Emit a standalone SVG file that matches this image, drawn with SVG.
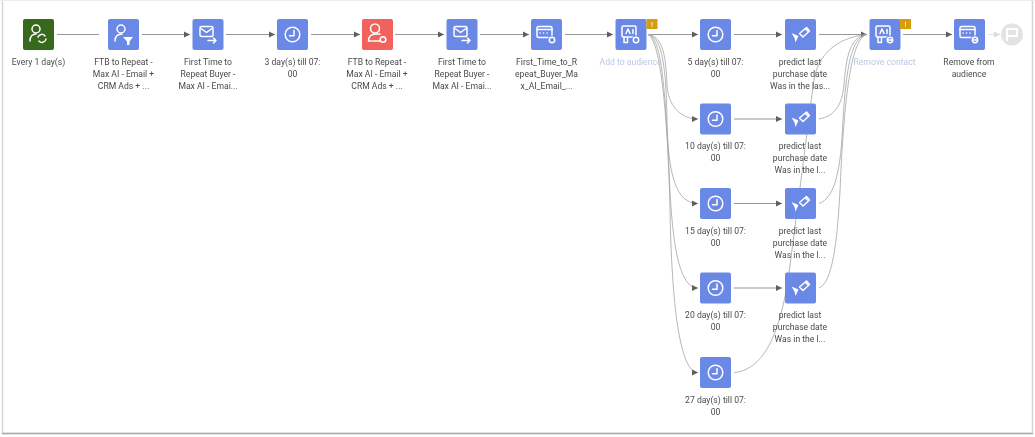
<svg xmlns="http://www.w3.org/2000/svg" width="1035" height="437" viewBox="0 0 1035 437">
<style>
text{font-family:Roboto,"Liberation Sans",sans-serif;font-size:8.6px;fill:#4a4a4a;text-anchor:middle}
.m{fill:#b9c8e2}
.b{fill:#6b88e6}
.i{fill:none;stroke:#fff;stroke-width:1.5;stroke-linecap:round;stroke-linejoin:round}
.e{fill:none;stroke:#8b8b8b;stroke-width:.9}
.c{fill:none;stroke:#a3a3a3;stroke-width:.8}
.w{fill:#fff}
</style>
<defs>
<filter id="s" x="-2%" y="-2%" width="104%" height="104%"><feGaussianBlur stdDeviation="0.5"/></filter>
<marker id="a" markerUnits="userSpaceOnUse" markerWidth="7" markerHeight="7" refX="6" refY="3.5" orient="auto"><path d="M0 .5L6 3.5L0 6.5Z" fill="#5f5f5f"/></marker>
<marker id="l" markerUnits="userSpaceOnUse" markerWidth="7" markerHeight="7" refX="6" refY="3.5" orient="auto"><path d="M0 .5L6 3.5L0 6.5Z" fill="#dcdcdc"/></marker>
<g id="clock"><circle cx="0" cy="0" r="7.3" class="i"/><path d="M1.5-4V1.2H-3" class="i"/></g>
<g id="pred"><path d="M-9 -1.5L-2 1.5L-5 8L-6 3.5Z" fill="#fff"/><path d="M-1 -1L6 -7L9 -3.5L2.500 2.500Z" class="i"/><path d="M5-5.500l2 2" class="i"/></g>
<g id="mail"><rect x="-8" y="-8" width="13" height="10" rx="1.5" class="i"/><path d="M-7-6L-1.500-2L4-6" class="i"/><path d="M0 6H8M5.500 3.500L8 6L5.500 8.500" class="i"/></g>
<g id="aud"><rect x="-9" y="-8" width="15" height="11" rx="1.5" class="i"/><path d="M-9-5H6" class="i"/><path d="M-6-1.500h.1M-2.500-1.500h.1M1-1.500h.1" class="i" stroke-width="2"/></g>
<g id="ad"><rect x="-8" y="-8.500" width="14" height="11" rx="1.5" class="i"/><path d="M-4-1L-2-5.500L0-1M3-5V-1" class="i" stroke-width="1"/><path d="M-6 2.500V8H-2.500V3" class="i"/></g>
</defs>
<rect width="1035" height="437" fill="#fff"/>
<g filter="url(#s)">
<g id="frame"><path d="M2.500 0V433.500H1032.500V0" fill="none" stroke="#d6d6d6" stroke-width="1.500"/><path d="M2 433.500H1033" fill="none" stroke="#ababab" stroke-width="1.500"/><path d="M0 .5H1035" stroke="#ececec"/></g>
<g id="connectors">
<path class="e" d="M57 34.500H99"/>
<path class="e" d="M142 34.500H190" marker-end="url(#a)"/>
<path class="e" d="M226 34.500H275" marker-end="url(#a)"/>
<path class="e" d="M311 34.500H360" marker-end="url(#a)"/>
<path class="e" d="M395 34.500H444" marker-end="url(#a)"/>
<path class="e" d="M480 34.500H529" marker-end="url(#a)"/>
<path class="e" d="M565 34.500H613" marker-end="url(#a)"/>
<path class="e" d="M650 34.500H698" marker-end="url(#a)"/>
<path class="e" d="M734 34.500H782" marker-end="url(#a)"/>
<path class="e" d="M819 34.500H867" marker-end="url(#a)"/>
<path class="e" d="M903 34.500H952" marker-end="url(#a)"/>
<path d="M988 34.500H1000" fill="none" stroke="#e2e2e2" marker-end="url(#l)"/>
<path class="c" d="M648 34.500C664 36 666 60 667 85C668 105 680 119 698 119" marker-end="url(#a)"/>
<path class="c" d="M648 34.500C663 37 666 70 667 120C668 175 676 203.500 698 203.500" marker-end="url(#a)"/>
<path class="c" d="M648 34.500C662 38 665 90 669 170C672 250 680 288 698 288" marker-end="url(#a)"/>
<path class="c" d="M648 34.500C661 40 668 120 670 210C672 320 682 372.500 698 372.500" marker-end="url(#a)"/>
<path class="e" d="M734 119H782" marker-end="url(#a)"/>
<path class="e" d="M734 203.500H782" marker-end="url(#a)"/>
<path class="e" d="M734 288H782" marker-end="url(#a)"/>
<path class="c" d="M819 119C835 116 842 105 844 85C846 55 851 37 866 34.500"/>
<path class="c" d="M819 203.500C835 198 841 170 843 120C846 70 851 38 866 34.500"/>
<path class="c" d="M819 288C833 282 838 240 841 170C845 90 852 40 866 34.500"/>
<path class="c" d="M734 372.500C765 370 782 330 790 265C800 190 809 115 814 80C818 55 836 38 866 34.500"/>
</g>
<g id="n1"><rect class="b" style="fill:#37671c" x="23" y="19" width="31" height="31" rx="2"/><circle cx="36" cy="29" r="4" class="i"/><path d="M30 41C30 36 33 34 36 34" class="i"/><path d="M38 37a4 4 0 0 1 7-1M46 39a4 4 0 0 1-7 2" class="i" stroke-width="1.200"/><text x="38.500" y="64.500">Every 1 day(s)</text></g>
<g id="n2"><rect class="b" x="108" y="19" width="31" height="31" rx="2"/><circle cx="121" cy="29" r="4" class="i"/><path d="M115 41C115 36 118 34 122 34" class="i"/><path d="M123 37H133L129.500 41.500V45H127V41.500Z" class="w"/><text x="123.500" y="64.500">FTB to Repeat -</text><text x="123.500" y="76.500">Max AI - Email +</text><text x="123.500" y="88.500">CRM Ads + ...</text></g>
<g id="n3"><rect class="b" x="192.500" y="19" width="31" height="31" rx="2"/><use href="#mail" x="208" y="34.500"/><text x="208" y="64.500">First Time to</text><text x="208" y="76.500">Repeat Buyer -</text><text x="208" y="88.500">Max AI - Emai...</text></g>
<g id="n4"><rect class="b" x="277" y="19" width="31" height="31" rx="2"/><use href="#clock" x="292.500" y="34.500"/><text x="292.500" y="64.500">3 day(s) till 07:</text><text x="292.500" y="76.500">00</text></g>
<g id="n5"><rect class="b" style="fill:#f2625c" x="362" y="19" width="31" height="31" rx="2"/><circle cx="375" cy="28.500" r="4.500" class="i"/><path d="M368.500 41C368.500 36 372 34 376 34H380M368.500 41H380" class="i"/><circle cx="383" cy="39.500" r="2.800" class="i"/><text x="377" y="64.500">FTB to Repeat -</text><text x="377" y="76.500">Max AI - Email +</text><text x="377" y="88.500">CRM Ads + ...</text></g>
<g id="n6"><rect class="b" x="446.500" y="19" width="31" height="31" rx="2"/><use href="#mail" x="462" y="34.500"/><text x="462" y="64.500">First Time to</text><text x="462" y="76.500">Repeat Buyer -</text><text x="462" y="88.500">Max AI - Emai...</text></g>
<g id="n7"><rect class="b" x="531" y="19" width="31" height="31" rx="2"/><use href="#aud" x="546" y="34.500"/><circle cx="552" cy="40" r="4.500" fill="#6b88e6"/><circle cx="552" cy="40" r="2.700" class="i"/><text x="546.500" y="64.500">First_Time_to_R</text><text x="546.500" y="76.500">epeat_Buyer_Ma</text><text x="546.500" y="88.500">x_AI_Email_...</text></g>
<g id="n8"><rect class="b" x="615.500" y="19" width="31" height="31" rx="2"/><use href="#ad" x="630" y="34.500"/><circle cx="636" cy="40" r="4.500" fill="#6b88e6"/><circle cx="636" cy="40" r="2.700" class="i"/><rect x="646.500" y="19" width="11" height="10" fill="#d69e0c"/><text x="652" y="27" style="fill:#fff;font-size:8px">!</text><text class="m" x="630.500" y="64.500">Add to audience</text></g>
<g id="n9"><rect class="b" x="700" y="19" width="31" height="31" rx="2"/><use href="#clock" x="715.500" y="34.500"/><text x="715.500" y="64.500">5 day(s) till 07:</text><text x="715.500" y="76.500">00</text></g>
<g id="n10"><rect class="b" x="785" y="19" width="31" height="31" rx="2"/><use href="#pred" x="800.500" y="34.500"/><text x="800" y="64.500">predict last</text><text x="800" y="76.500">purchase date</text><text x="800" y="88.500">Was in the las...</text></g>
<g id="n11"><rect class="b" x="869.500" y="19" width="31" height="31" rx="2"/><use href="#ad" x="884" y="34.500"/><circle cx="890" cy="40" r="4.500" fill="#6b88e6"/><circle cx="890" cy="40" r="2.700" class="i"/><path d="M888 40H892" class="i" stroke-width="1"/><rect x="900" y="19" width="11" height="10" fill="#d69e0c"/><text x="905.500" y="27" style="fill:#fff;font-size:8px">!</text><text class="m" x="884.500" y="64.500">Remove contact</text></g>
<g id="n12"><rect class="b" x="954" y="19" width="31" height="31" rx="2"/><use href="#aud" x="969" y="34.500"/><circle cx="975" cy="40" r="4.500" fill="#6b88e6"/><circle cx="975" cy="40" r="2.700" class="i"/><path d="M973 40H977" class="i" stroke-width="1"/><text x="969" y="64.500">Remove from</text><text x="969" y="76.500">audience</text></g>
<g id="n13"><circle cx="1012" cy="34.500" r="11" fill="#e3e3e3"/><path d="M1007 41V29H1017V36H1007" fill="none" stroke="#fff" stroke-width="2"/></g>
<g id="n14"><rect class="b" x="700" y="103.500" width="31" height="31" rx="2"/><use href="#clock" x="715.500" y="119"/><text x="715.500" y="149">10 day(s) till 07:</text><text x="715.500" y="161">00</text></g>
<g id="n15"><rect class="b" x="785" y="103.500" width="31" height="31" rx="2"/><use href="#pred" x="800.500" y="119"/><text x="800" y="149">predict last</text><text x="800" y="161">purchase date</text><text x="800" y="173">Was in the l...</text></g>
<g id="n16"><rect class="b" x="700" y="188" width="31" height="31" rx="2"/><use href="#clock" x="715.500" y="203.500"/><text x="715.500" y="233.500">15 day(s) till 07:</text><text x="715.500" y="245.500">00</text></g>
<g id="n17"><rect class="b" x="785" y="188" width="31" height="31" rx="2"/><use href="#pred" x="800.500" y="203.500"/><text x="800" y="233.500">predict last</text><text x="800" y="245.500">purchase date</text><text x="800" y="257.500">Was in the l...</text></g>
<g id="n18"><rect class="b" x="700" y="272.500" width="31" height="31" rx="2"/><use href="#clock" x="715.500" y="288"/><text x="715.500" y="318">20 day(s) till 07:</text><text x="715.500" y="330">00</text></g>
<g id="n19"><rect class="b" x="785" y="272.500" width="31" height="31" rx="2"/><use href="#pred" x="800.500" y="288"/><text x="800" y="318">predict last</text><text x="800" y="330">purchase date</text><text x="800" y="342">Was in the l...</text></g>
<g id="n20"><rect class="b" x="700" y="357" width="31" height="31" rx="2"/><use href="#clock" x="715.500" y="372.500"/><text x="715.500" y="402.500">27 day(s) till 07:</text><text x="715.500" y="414.500">00</text></g>
</g>
</svg>
